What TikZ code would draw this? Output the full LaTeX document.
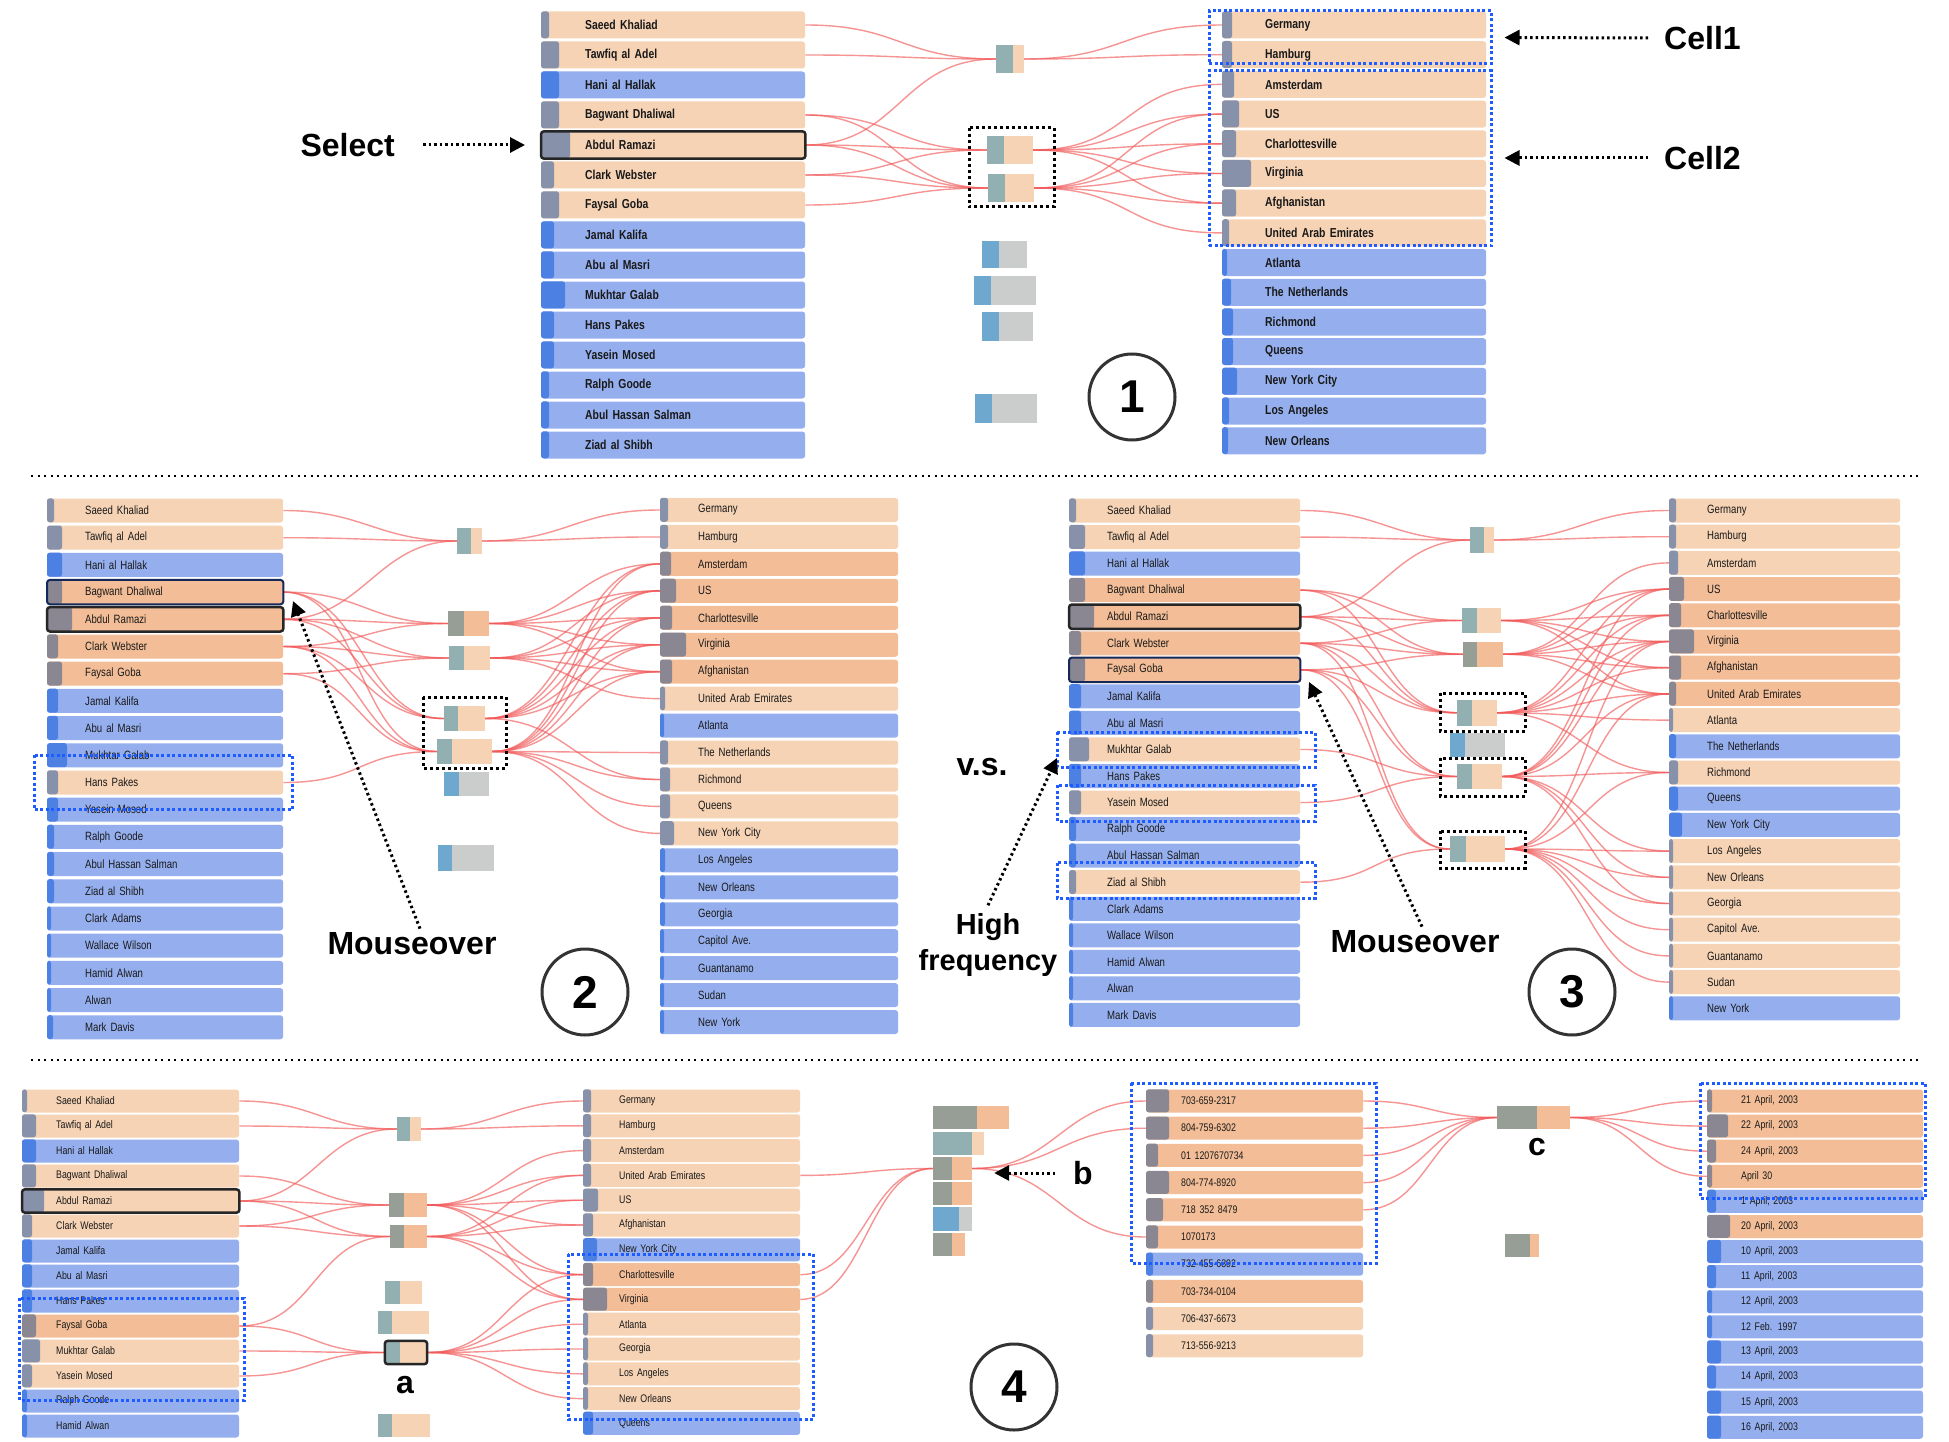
\documentclass[tikz,border=0pt]{standalone}
\usepackage{fontspec}
\setmainfont{Liberation Sans}
\newfontfamily\rf[FakeStretch=0.8]{Liberation Sans}
\usetikzlibrary{arrows.meta,fit,calc}
\pgfdeclarelayer{bg}
\pgfsetlayers{bg,main}
\definecolor{cP}{HTML}{F6D3B5}
\definecolor{cD}{HTML}{F3BE97}
\definecolor{cB}{HTML}{95AFEE}
\definecolor{iP}{HTML}{8792AA}
\definecolor{iD}{HTML}{8A8793}
\definecolor{iB}{HTML}{4D80E3}
\definecolor{tl}{HTML}{92AFB1}
\definecolor{tg}{HTML}{979E95}
\definecolor{bb}{HTML}{6EA8CF}
\definecolor{gg}{HTML}{CACDCC}
\definecolor{lr}{HTML}{F25A5A}
\definecolor{bd}{HTML}{1F5CFF}
\definecolor{nv}{HTML}{14285A}
\tikzset{
 rowbase/.style={inner xsep=0pt, inner ysep=0pt, align=left, rounded corners=3pt, font=\rowfont, text=black!90},
 lk/.style={draw=lr, line width=1.4pt, opacity=0.65},
 mbx/.style={inner sep=0pt},
 blkdot/.style={draw=black, line width=3pt, dash pattern=on 3pt off 3pt},
 bluedot/.style={draw=bd, line width=3pt, dash pattern=on 3pt off 2.5pt, inner sep=0pt},
 arr/.style={draw=black, line width=3pt, dash pattern=on 2.5pt off 3pt, -{Triangle[length=15pt,width=15pt]}},
 big/.style={font=\fontsize{32}{36}\selectfont\bfseries, inner sep=0pt},
 circ/.style={circle, draw=black!80, line width=3pt, minimum size=86pt, inner sep=0pt, font=\fontsize{46}{46}\selectfont\bfseries},
 sel/.style={draw=black!85, line width=2.5pt, rounded corners=3pt},
 seln/.style={draw=nv, line width=2pt, rounded corners=3pt},
 sepline/.style={draw=black, line width=2.5pt, dash pattern=on 2pt off 4.5pt},
}
\def\rowfont{\rf\fontsize{12}{12}\selectfont}
\def\tpad{38pt}
\def\lh{80}
\newcommand\rr[9]{%
 \node[rowbase, fill=#6, minimum width=#4pt, minimum height=#5pt, text width=#4pt, anchor=west] (#1) at (#2,#3) {\hspace*{\tpad}#9};
 \fill[#8, rounded corners=2.5pt] (#1.north west) rectangle ++(#7,#5);}
\newcommand\col[7]{%
 \foreach \nm/\ty/\iw [count=\rk] in {#7} {\pgfmathsetmacro\yy{#3+#4*(\rk-1)}\rr{#1\rk}{#2}{\yy}{#5}{#6}{c\ty}{\iw}{i\ty}{\nm}}}
\newcommand\mb[8]{%
 \node[mbx, fill=#8, fit={(#2,#3)(#4,#5)}] (#1) {};
 \fill[#7] (#2,#3) rectangle (#6,#5);}
\newcommand\lk[2]{\draw[lk] (#1.east) .. controls +(\lh,0) and +(-\lh,0) .. (#2.west);}
\newcommand\lkto[2]{\foreach \sr in {#1}{\lk{\sr}{#2}}}
\newcommand\lkfrom[2]{\foreach \tt in {#2}{\lk{#1}{\tt}}}
\begin{document}
\begin{tikzpicture}[x=1pt,y=-1pt]
\useasboundingbox (0,0) rectangle (1949,1442);
\begin{pgfonlayer}{bg}\fill[white] (0,0) rectangle (1949,1442);\end{pgfonlayer}

% ================= PANEL 1 =================
\def\rowfont{\rf\bfseries\fontsize{13}{13}\selectfont}
\def\tpad{44pt}
\col{p1l}{541}{25}{30}{264}{27}{Saeed Khaliad/P/8, Tawfiq al Adel/P/18, Hani al Hallak/B/18, Bagwant Dhaliwal/P/18, Abdul Ramazi/P/29, Clark Webster/P/13, Faysal Goba/P/18, Jamal Kalifa/B/13, Abu al Masri/B/13, Mukhtar Galab/B/24, Hans Pakes/B/13, Yasein Mosed/B/13, Ralph Goode/B/8, Abul Hassan Salman/B/8, Ziad al Shibh/B/8}
\def\tpad{43pt}
\col{p1r}{1222}{25}{29.7}{264}{27}{Germany/P/10, Hamburg/P/10, Amsterdam/P/12, US/P/17, Charlottesville/P/14, Virginia/P/29, Afghanistan/P/14, United Arab Emirates/P/7, Atlanta/B/5, The Netherlands/B/9, Richmond/B/11, Queens/B/11, New York City/B/15, Los Angeles/B/7, New Orleans/B/6}
\draw[sel] (p1l5.north west) rectangle (p1l5.south east);
\mb{p1A}{996}{45}{1024}{73}{1013}{tl}{cP}
\mb{p1B}{987}{136}{1033}{164}{1004}{tl}{cP}
\mb{p1C}{988}{174}{1034}{202}{1005}{tl}{cP}
\mb{p1D}{982}{241}{1027}{268}{999}{bb}{gg}
\mb{p1E}{974}{276}{1036}{305}{991}{bb}{gg}
\mb{p1F}{982}{312}{1033}{341}{999}{bb}{gg}
\mb{p1G}{975}{394}{1037}{423}{992}{bb}{gg}
\draw[blkdot] (969,128) rectangle (1054,207);
\node[bluedot, fit={(1209,11)(1491,64)}] (cell1) {};
\node[bluedot, fit={(1209,71)(1491,246)}] (cell2) {};
\node[big, anchor=west] (c1t) at (1664,38) {Cell1};
\node[big, anchor=west] (c2t) at (1664,158) {Cell2};
\draw[arr, shorten <=16pt, shorten >=12pt] (c1t.west) -- (cell1.east);
\draw[arr, shorten <=16pt, shorten >=12pt] (c2t.west) -- (cell2.east |- c2t.west);
\node[big, anchor=east] (selt) at (395,145) {Select};
\draw[arr, shorten <=28pt, shorten >=16pt] (selt.east) -- (p1l5.west);
\node[circ] (n1) at (1132,397) {1};
\begin{pgfonlayer}{bg}
\def\lh{95}
\lkto{p1l1,p1l2,p1l5}{p1A}
\lkto{p1l4,p1l5,p1l6}{p1B}
\lkto{p1l4,p1l5,p1l6,p1l7}{p1C}
\def\lh{100}
\lkfrom{p1A}{p1r1,p1r2}
\lkfrom{p1B}{p1r3,p1r4,p1r5,p1r6,p1r7}
\lkfrom{p1C}{p1r4,p1r5,p1r6,p1r7,p1r8}
\end{pgfonlayer}

\draw[sepline] (31,476) -- (1920,476);
\draw[sepline] (31,1060) -- (1920,1060);

% ================= PANEL 2 =================
\def\rowfont{\rf\fontsize{12}{12}\selectfont}
\def\tpad{38pt}
\col{p2l}{47}{510.5}{27.2}{236}{24}{Saeed Khaliad/P/7, Tawfiq al Adel/P/15, Hani al Hallak/B/15, Bagwant Dhaliwal/D/15, Abdul Ramazi/D/25, Clark Webster/D/11, Faysal Goba/D/15, Jamal Kalifa/B/11, Abu al Masri/B/11, Mukhtar Galab/B/20, Hans Pakes/P/11, Yasein Mosed/B/11, Ralph Goode/B/7, Abul Hassan Salman/B/7, Ziad al Shibh/B/7, Clark Adams/B/4, Wallace Wilson/B/4, Hamid Alwan/B/4, Alwan/B/4, Mark Davis/B/6}
\col{p2r}{660}{510}{26.95}{238}{24}{Germany/P/8, Hamburg/P/8, Amsterdam/D/11, US/D/16, Charlottesville/D/12, Virginia/D/26, Afghanistan/D/12, United Arab Emirates/P/5, Atlanta/B/4, The Netherlands/P/8, Richmond/P/10, Queens/P/10, New York City/P/14, Los Angeles/B/5, New Orleans/B/5, Georgia/B/5, Capitol Ave./B/4, Guantanamo/B/4, Sudan/B/4, New York/B/4}
\draw[seln] (p2l4.north west) rectangle (p2l4.south east);
\draw[sel] (p2l5.north west) rectangle (p2l5.south east);
\mb{p2A}{457}{528}{482}{554}{471}{tl}{cP}
\mb{p2B}{448}{611}{489}{636}{464}{tg}{cD}
\mb{p2C}{449}{646}{490}{670}{464}{tl}{cP}
\mb{p2D}{444}{706}{485}{731}{458}{tl}{cP}
\mb{p2E}{437}{739}{492}{764}{452}{tl}{cP}
\mb{p2F}{444}{772}{489}{796}{459}{bb}{gg}
\mb{p2G}{438}{845}{494}{871}{452}{bb}{gg}
\draw[blkdot] (423,697) rectangle (506,768);
\draw[bluedot] (34,755) rectangle (292,809.5);
\node[big] (mo2) at (412,944) {Mouseover};
\coordinate (p2tip) at (293,601);
\draw[arr] ($(mo2.north)+(8,-4)$) -- (p2tip);
\node[circ] (n2) at (585,992) {2};
\begin{pgfonlayer}{bg}
\def\lh{80}
\lkto{p2l1,p2l2,p2l5}{p2A}
\lkto{p2l4,p2l5,p2l6}{p2B}
\lkto{p2l5,p2l6,p2l7}{p2C}
\lkto{p2l4,p2l5,p2l6}{p2D}
\lkto{p2l4,p2l6,p2l7,p2l11}{p2E}
\def\lh{85}
\lkfrom{p2A}{p2r1,p2r2}
\lkfrom{p2B}{p2r3,p2r4,p2r5,p2r6,p2r7}
\lkfrom{p2C}{p2r4,p2r5,p2r6,p2r7,p2r8}
\lkfrom{p2D}{p2r3,p2r4,p2r5,p2r6,p2r7,p2r11}
\lkfrom{p2E}{p2r3,p2r4,p2r5,p2r6,p2r7,p2r10,p2r11,p2r12,p2r13}
\end{pgfonlayer}

% ================= PANEL 3 =================
\col{p3l}{1069}{510.5}{26.55}{231}{24}{Saeed Khaliad/P/7, Tawfiq al Adel/P/16, Hani al Hallak/B/16, Bagwant Dhaliwal/D/16, Abdul Ramazi/D/25, Clark Webster/D/12, Faysal Goba/D/16, Jamal Kalifa/B/12, Abu al Masri/B/12, Mukhtar Galab/P/20, Hans Pakes/B/12, Yasein Mosed/P/12, Ralph Goode/B/7, Abul Hassan Salman/B/7, Ziad al Shibh/P/7, Clark Adams/B/4, Wallace Wilson/B/4, Hamid Alwan/B/4, Alwan/B/4, Mark Davis/B/4}
\col{p3r}{1669}{510.5}{26.2}{231}{24}{Germany/P/7, Hamburg/P/7, Amsterdam/P/9, US/D/15, Charlottesville/D/12, Virginia/D/25, Afghanistan/D/12, United Arab Emirates/D/7, Atlanta/P/4, The Netherlands/B/7, Richmond/P/9, Queens/B/9, New York City/B/13, Los Angeles/P/4, New Orleans/P/4, Georgia/P/4, Capitol Ave./P/4, Guantanamo/P/4, Sudan/P/4, New York/B/4}
\draw[sel] (p3l5.north west) rectangle (p3l5.south east);
\draw[seln] (p3l7.north west) rectangle (p3l7.south east);
\mb{p3A}{1470}{527}{1494}{553}{1484}{tl}{cP}
\mb{p3B}{1462}{608}{1501}{633}{1477}{tl}{cP}
\mb{p3C}{1463}{642}{1503}{666.5}{1477}{tg}{cD}
\mb{p3D}{1457}{700}{1497}{725.5}{1472}{tl}{cP}
\mb{p3E}{1450}{733}{1505}{757}{1465}{bb}{gg}
\mb{p3F}{1457}{764}{1502}{789}{1472}{tl}{cP}
\mb{p3G}{1450}{836}{1505}{862}{1466}{tl}{cP}
\draw[blkdot] (1440,693) rectangle (1525,731);
\draw[blkdot] (1440,758) rectangle (1525,796);
\draw[blkdot] (1440,831) rectangle (1525,868);
\draw[bluedot] (1057,732) rectangle (1315,767);
\draw[bluedot] (1057,785) rectangle (1315,821);
\draw[bluedot] (1057,862.5) rectangle (1315,898);
\node[big] (vs) at (982,767) {v.s.};
\node[big, align=center, font=\fontsize{29}{36}\selectfont\bfseries] (hf) at (988,945) {High\\frequency};
\coordinate (hftip) at (1057,758);
\draw[arr] ($(hf.north)+(0,-8)$) -- (hftip);
\node[big] (mo3) at (1415,942) {Mouseover};
\coordinate (p3tip) at (1309,682);
\draw[arr] ($(mo3.north)+(7,-4)$) -- (p3tip);
\node[circ] (n3) at (1572,992) {3};
\begin{pgfonlayer}{bg}
\def\lh{80}
\lkto{p3l1,p3l2,p3l5}{p3A}
\lkto{p3l4,p3l5,p3l6}{p3B}
\lkto{p3l4,p3l5,p3l6,p3l7}{p3C}
\lkto{p3l4,p3l5,p3l6,p3l7}{p3D}
\lkto{p3l6,p3l7,p3l10,p3l12}{p3F}
\lkto{p3l6,p3l7,p3l15}{p3G}
\def\lh{85}
\lkfrom{p3A}{p3r1,p3r2}
\lkfrom{p3B}{p3r4,p3r5,p3r6,p3r7,p3r8}
\lkfrom{p3C}{p3r3,p3r4,p3r5,p3r6,p3r7,p3r8}
\lkfrom{p3D}{p3r4,p3r5,p3r6,p3r7,p3r8,p3r9,p3r11}
\lkfrom{p3F}{p3r4,p3r5,p3r6,p3r8,p3r11,p3r14,p3r15,p3r16}
\lkfrom{p3G}{p3r6,p3r8,p3r11,p3r14,p3r15,p3r16,p3r17,p3r18,p3r19}
\end{pgfonlayer}

% ================= PANEL 4 =================
\def\rowfont{\rf\fontsize{11}{11}\selectfont}
\def\tpad{34pt}
\col{p4l}{22}{1101}{25}{217}{23}{Saeed Khaliad/P/5, Tawfiq al Adel/P/14, Hani al Hallak/B/14, Bagwant Dhaliwal/P/14, Abdul Ramazi/P/22, Clark Webster/P/10, Jamal Kalifa/B/10, Abu al Masri/B/10, Hans Pakes/B/10, Faysal Goba/D/14, Mukhtar Galab/P/18, Yasein Mosed/P/10, Ralph Goode/B/5, Hamid Alwan/B/5}
\def\tpad{36pt}
\col{p4m}{583}{1101}{24.8}{217}{23}{Germany/P/8, Hamburg/P/8, Amsterdam/P/8, United Arab Emirates/P/8, US/P/15, Afghanistan/P/10, New York City/B/14, Charlottesville/D/10, Virginia/D/24, Atlanta/P/5, Georgia/P/5, Los Angeles/P/5, New Orleans/P/5, Queens/B/10}
\def\tpad{35pt}
\col{p4p}{1146}{1101}{27.2}{217}{23}{703-659-2317/D/23, 804-759-6302/D/23, 01 1207670734/D/12, 804-774-8920/D/23, 718 352 8479/D/17, 1070173/D/12, 732-455-6392/B/7, 703-734-0104/D/7, 706-437-6673/P/7, 713-556-9213/P/7}
\def\tpad{34pt}
\col{p4d}{1707}{1101}{25.1}{216}{23}{{21 April, 2003}/D/5, {22 April, 2003}/D/21, {24 April, 2003}/D/9, April 30/D/5, {1 April, 2003}/B/9, {20 April, 2003}/D/23, {10 April, 2003}/B/14, {11 April, 2003}/B/9, {12 April, 2003}/B/5, 12 Feb. 1997/B/5, {13 April, 2003}/B/14, {14 April, 2003}/B/9, {15 April, 2003}/B/14, {16 April, 2003}/B/14}
\draw[sel] (p4l5.north west) rectangle (p4l5.south east);
\mb{p4A}{397}{1117}{421}{1141}{410}{tl}{cP}
\mb{p4B}{389}{1193}{427}{1217}{404}{tg}{cD}
\mb{p4C}{390}{1225}{427}{1248}{404}{tg}{cD}
\mb{p4D}{385}{1281}{422}{1304}{400}{tl}{cP}
\mb{p4E}{378}{1311}{429}{1334}{392}{tl}{cP}
\mb{p4F}{385}{1341}{427}{1364}{400}{tl}{cP}
\draw[sel] (p4F.north west) rectangle (p4F.south east);
\mb{p4G}{378}{1414}{430}{1437}{392}{tl}{cP}
\node[big] (la) at (405,1385) {a};
\draw[bluedot] (19,1298) rectangle (244,1400);
\draw[bluedot] (568,1254) rectangle (813,1419);
\mb{p4H1}{933}{1106}{1009}{1129}{977}{tg}{cD}
\mb{p4H2}{933}{1132}{984}{1155}{972}{tl}{cP}
\mb{p4H3}{933}{1157}{972}{1180}{952}{tg}{cD}
\mb{p4H4}{933}{1182}{972}{1205}{952}{tg}{cD}
\mb{p4H5}{933}{1207}{972}{1231}{959}{bb}{gg}
\mb{p4H6}{933}{1233}{965}{1256}{952}{tg}{cD}
\node[big] (lb) at (1083,1173) {b};
\draw[arr, shorten <=18pt, shorten >=22pt] (lb.west) -- (p4H3.east |- lb.west);
\draw[bluedot] (1131,1083) rectangle (1376,1263);
\mb{p4c}{1497}{1106}{1570}{1129}{1537}{tg}{cD}
\node[big] (lc) at (1537,1147) {c};
\mb{p4s}{1505}{1234}{1539}{1257}{1530}{tg}{cD}
\draw[bluedot] (1700,1083) rectangle (1925,1198);
\node[circ] (n4) at (1014,1387) {4};
\begin{pgfonlayer}{bg}
\def\lh{75}
\lkto{p4l1,p4l2,p4l5}{p4A}
\lkto{p4l4,p4l5,p4l6}{p4B}
\lkto{p4l5,p4l6,p4l10}{p4C}
\lkto{p4l10,p4l11,p4l12}{p4F}
\def\lh{78}
\lkfrom{p4A}{p4m1,p4m2}
\lkfrom{p4B}{p4m3,p4m4,p4m5,p4m6,p4m8,p4m9}
\lkfrom{p4C}{p4m4,p4m5,p4m6,p4m8,p4m9}
\lkfrom{p4F}{p4m8,p4m9,p4m10,p4m11,p4m12,p4m13}
\def\lh{65}
\lkto{p4m4,p4m8,p4m9}{p4H3}
\def\lh{85}
\lkfrom{p4H3}{p4p1,p4p2,p4p6}
\def\lh{65}
\lkto{p4p1,p4p2,p4p3,p4p4,p4p5}{p4c}
\def\lh{68}
\lkfrom{p4c}{p4d1,p4d2,p4d3,p4d4}
\end{pgfonlayer}
\end{tikzpicture}
\end{document}
